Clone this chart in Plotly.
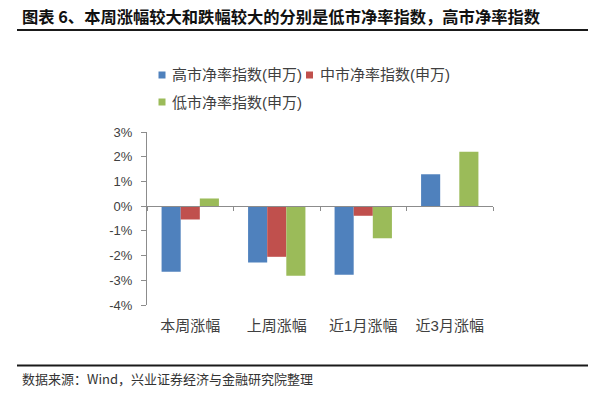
import plotly.graph_objects as go

# ---------------- data ----------------
categories = ["本周涨幅", "上周涨幅", "近1月涨幅", "近3月涨幅"]
series_names = ["高市净率指数(申万)", "中市净率指数(申万)", "低市净率指数(申万)"]
high_pb = [-2.65, -2.28, -2.78, 1.29]
mid_pb = [-0.54, -2.05, -0.39, 0.0]
low_pb = [0.31, -2.82, -1.30, 2.20]
y_tick_values = [3, 2, 1, 0, -1, -2, -3, -4]
y_tick_labels = ["3%", "2%", "1%", "0%", "-1%", "-2%", "-3%", "-4%"]
title_text = "图表 6、本周涨幅较大和跌幅较大的分别是低市净率指数，高市净率指数"
source_text = "数据来源：Wind，兴业证券经济与金融研究院整理"

# ---------------- style ----------------
colors = ["#4F81BD", "#C0504D", "#9BBB59"]
W, H = 600, 399
ML, MR, MT, MB = 147, 107, 132, 94
axis_color = "#8C8C8C"
text_color = "#404040"
font_family = "Liberation Sans, Noto Sans CJK SC, sans-serif"
cjk_family = "Noto Sans CJK SC, sans-serif"

plot_w = W - ML - MR
plot_h = H - MT - MB


def px_x(px):
    return (px - ML) / plot_w


def px_y(py):
    return 1 - (py - MT) / plot_h


fig = go.Figure()
for name, vals, col in zip(series_names, [high_pb, mid_pb, low_pb], colors):
    fig.add_trace(go.Bar(x=categories, y=vals, name=name, marker_color=col,
                         marker_line_width=0, showlegend=False))

y_min, y_max = min(y_tick_values), max(y_tick_values)
zero_pos = (0 - y_min) / (y_max - y_min)
zero_px = MT + (1 - zero_pos) * plot_h
label_center_px = 325
label_standoff = int(round((label_center_px - zero_px) - 4 - 9))

fig.update_layout(
    width=W, height=H, autosize=False,
    margin=dict(l=ML, r=MR, t=MT, b=MB, pad=0),
    paper_bgcolor="white", plot_bgcolor="white",
    barmode="group", bargap=0.337, bargroupgap=0,
    font=dict(family=font_family, color=text_color, size=13),
    xaxis=dict(
        type="category", categoryarray=categories, range=[-0.5, len(categories) - 0.5],
        anchor="free", position=zero_pos,
        showline=True, linecolor=axis_color, linewidth=1,
        ticks="outside", tickson="boundaries", ticklen=4, tickcolor=axis_color,
        showgrid=False, zeroline=False,
        tickfont=dict(size=15, family=font_family, color=text_color),
        ticklabelstandoff=label_standoff,
    ),
    yaxis=dict(
        range=[y_min, y_max], tickvals=y_tick_values, ticktext=y_tick_labels,
        showline=True, linecolor=axis_color, linewidth=1,
        ticks="outside", ticklen=5, tickcolor=axis_color,
        showgrid=False, zeroline=False,
        tickfont=dict(size=13, family=font_family, color=text_color),
        ticklabelstandoff=6,
    ),
)

# ---------------- custom legend (Excel style) ----------------
legend_pos = [(162, 75), (309.5, 75), (162, 102)]
shapes = []
annotations = []
for (cx, cy), name, col in zip(legend_pos, series_names, colors):
    shapes.append(dict(type="rect", xref="paper", yref="paper",
                       x0=px_x(cx - 3.5), x1=px_x(cx + 3.5),
                       y0=px_y(cy + 3.5), y1=px_y(cy - 3.5),
                       fillcolor=col, line=dict(width=0)))
    annotations.append(dict(text=name, xref="paper", yref="paper",
                            x=px_x(cx + 8), y=px_y(cy), xanchor="left", yanchor="middle",
                            showarrow=False,
                            font=dict(size=15, family=font_family, color=text_color)))

# title and rules
annotations.append(dict(text="<b>" + title_text + "</b>", xref="paper", yref="paper",
                        x=px_x(20), y=px_y(16), xanchor="left", yanchor="middle",
                        showarrow=False, font=dict(size=16.3, family=cjk_family, color="#111111")))
annotations.append(dict(text=source_text, xref="paper", yref="paper",
                        x=px_x(20), y=px_y(378), xanchor="left", yanchor="middle",
                        showarrow=False, font=dict(size=13, family=cjk_family, color="#333333")))
for ly in (30, 365.5):
    shapes.append(dict(type="line", xref="paper", yref="paper",
                       x0=px_x(17), x1=px_x(588), y0=px_y(ly), y1=px_y(ly),
                       line=dict(color="#1A1A1A", width=2)))

fig.update_layout(shapes=shapes, annotations=annotations)
fig.write_html("out.html",
               config={"displayModeBar": False},
               post_script="document.body.style.margin='0';document.body.style.overflow='hidden';")
